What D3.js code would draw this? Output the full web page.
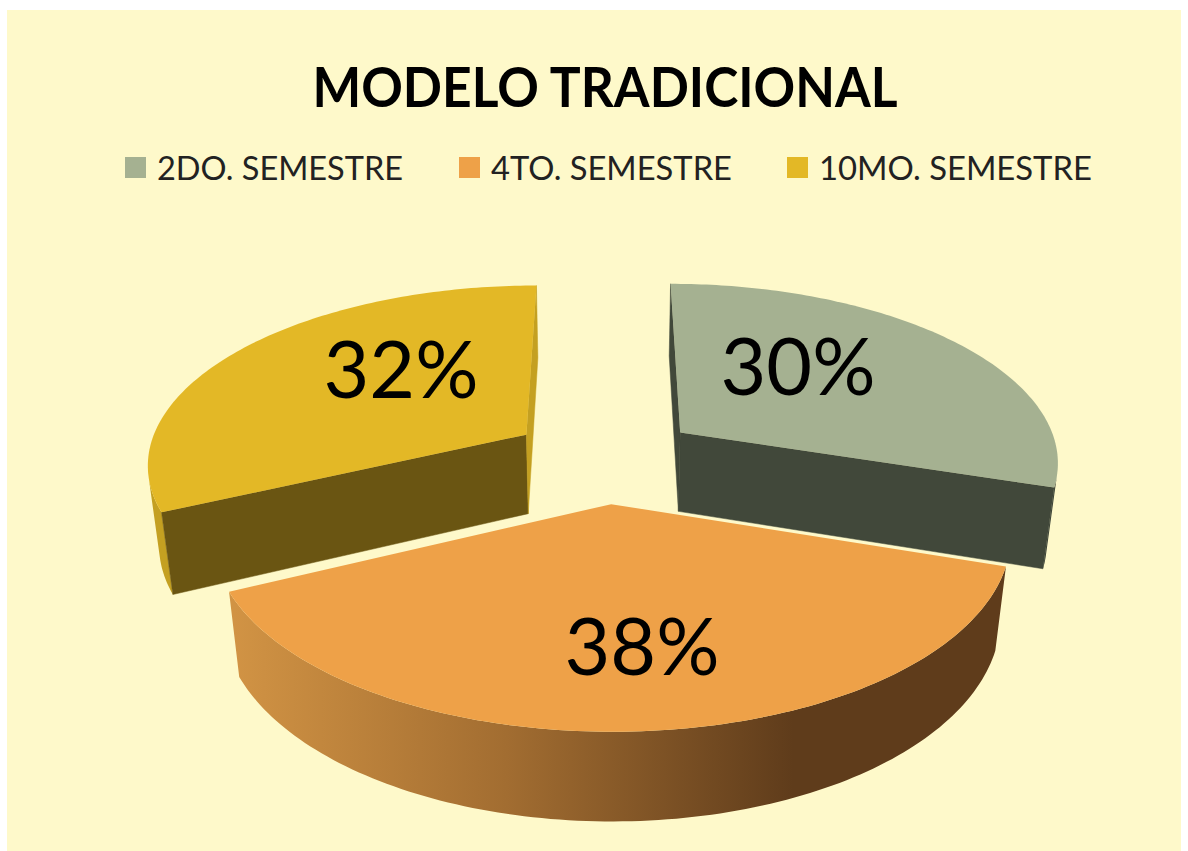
<!DOCTYPE html>
<html><head><meta charset="utf-8">
<script src="https://cdn.jsdelivr.net/npm/d3@7/dist/d3.min.js"></script>
<style>html,body{margin:0;padding:0;background:#fff}svg{display:block}text{font-family:Lato,"Open Sans",sans-serif}</style>
</head><body><svg id="c" width="1188" height="851"></svg>
<script>
const title = "MODELO TRADICIONAL";
const categories = ["2DO. SEMESTRE", "4TO. SEMESTRE", "10MO. SEMESTRE"];
const values = [30, 38, 32];
const topColors = ["#a5b191", "#eea148", "#e3b826"];
const frontCutColors = ["#41483a", "#5f3c1b", "#6a5512"];
const sideCutColors = ["#41483a", "#5f3c1b", "#c4a021"];
const legendX = [125, 459, 787];
const legendW = [246, 241, 273];
const labelPos = [[798, 367], [642, 647], [401, 370]];

const svg = d3.select("#c");
const defs = svg.append("defs");
const grad = defs.append("linearGradient").attr("id", "rim").attr("gradientUnits", "userSpaceOnUse")
  .attr("x1", 235).attr("x2", 1010).attr("y1", 0).attr("y2", 0);
[[0, "#d19344"], [0.35, "#a26d31"], [0.72, "#5f3c1b"], [1, "#5f3c1b"]]
  .forEach(s => grad.append("stop").attr("offset", s[0]).attr("stop-color", s[1]));

svg.append("rect").attr("x", 7).attr("y", 10).attr("width", 1174).attr("height", 841).attr("fill", "#fef9ca");

// perspective projection of the pie disc
const cx = 605, cy = 458, A = 380, B = 178, P = 0.15, Q = 0.025, D = 82, E = 0.25;
function project(X, Y, z) {
  const w = 1 - P * Y + Q * z;
  return [cx + A * X / w, cy + (B * Y + D * z) / w];
}
const pie = d3.pie().sort(null).value(d => d);
const arcs = pie(values);
const line = d3.line();
const order = [2, 0, 1];

order.forEach(i => {
  const a = arcs[i], mid = (a.startAngle + a.endAngle) / 2;
  const ox = E * Math.sin(mid), oy = -E * Math.cos(mid);
  const n = 120;
  const outer = d3.range(n + 1).map(k => {
    const t = a.startAngle + (a.endAngle - a.startAngle) * k / n;
    return [ox + Math.sin(t), oy - Math.cos(t)];
  });
  const apex = [ox, oy];
  const g = svg.append("g").attr("class", "slice");
  const quad = (p, q) => [project(p[0], p[1], 0), project(q[0], q[1], 0), project(q[0], q[1], 1), project(p[0], p[1], 1)];
  const visible = (p, q) => d3.polygonArea(quad(p, q)) > 0;
  const face = (p, q, fill) => {
    if (visible(p, q))
      g.append("path").attr("d", line(quad(p, q)) + "Z").attr("fill", fill).attr("stroke", fill).attr("stroke-width", 0.5);
  };
  // outer wall as one merged shape, so no seams show
  const seen = d3.pairs(outer).filter(([p, q]) => visible(p, q));
  if (seen.length) {
    const rim = [seen[0][0]].concat(seen.map(s => s[1]));
    const wall = rim.map(p => project(p[0], p[1], 0)).concat(rim.slice().reverse().map(p => project(p[0], p[1], 1)));
    const rimFill = i === 1 ? "url(#rim)" : sideCutColors[i];
    g.append("path").attr("d", line(wall) + "Z").attr("fill", rimFill);
  }
  face(apex, outer[0], frontCutColors[i]);
  face(outer[n], apex, sideCutColors[i]);
  const topPts = [apex].concat(outer).map(p => project(p[0], p[1], 0));
  g.append("path").attr("d", line(topPts) + "Z").attr("fill", topColors[i]);
});

// title, legend, labels
svg.append("text").attr("x", 605).attr("y", 107).attr("text-anchor", "middle")
  .attr("font-size", 55).attr("font-weight", 700).attr("fill", "#000")
  .attr("textLength", 585).attr("lengthAdjust", "spacingAndGlyphs").text(title);
categories.forEach((c, i) => {
  svg.append("rect").attr("x", legendX[i]).attr("y", 157).attr("width", 21).attr("height", 21).attr("fill", topColors[i]);
  svg.append("text").attr("x", legendX[i] + 32).attr("y", 180).attr("font-size", 32.5).attr("fill", "#222")
    .attr("textLength", legendW[i]).attr("lengthAdjust", "spacingAndGlyphs").text(c);
});
arcs.forEach((a, i) => {
  svg.append("text").attr("x", labelPos[i][0]).attr("y", labelPos[i][1]).attr("dy", "0.35em")
    .attr("text-anchor", "middle").attr("font-size", 79).attr("fill", "#000")
    .text(Math.round(a.value) + "%");
});
</script></body></html>
